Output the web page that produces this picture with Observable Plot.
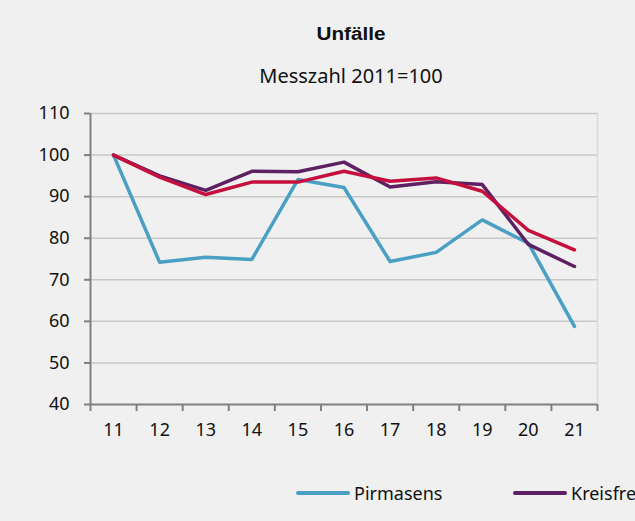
<!DOCTYPE html>
<html><head><meta charset="utf-8">
<script src="https://cdn.jsdelivr.net/npm/d3@7"></script>
<script src="https://cdn.jsdelivr.net/npm/@observablehq/plot@0.6"></script>
<style>
html,body{margin:0;padding:0;background:#eff0ef;}
#wrap{position:relative;width:635px;height:521px;overflow:hidden;background:#eff0ef;font-family:"Noto Sans",sans-serif;color:#111;}
#title{position:absolute;left:0;width:702px;top:25px;text-align:center;font-family:"Liberation Sans",Arial,sans-serif;font-weight:bold;font-size:18px;line-height:18px;}
#title span{display:inline-block;transform:scaleX(1.15);}
#subtitle{position:absolute;left:0;width:702px;top:66px;text-align:center;font-size:20px;line-height:20px;}
#chart{position:absolute;left:0;top:100px;}
#legend{position:absolute;left:296px;top:484px;display:flex;white-space:nowrap;font-size:18px;line-height:18px;}
.item{display:flex;align-items:center;width:217px;flex:none;}
.swatch{width:54px;height:4px;border-radius:2px;margin-right:4px;flex:none;}
</style></head><body>
<div id="wrap">
  <div id="title"><span>Unfälle</span></div>
  <div id="subtitle">Messzahl 2011=100</div>
  <div id="chart"></div>
  <div id="legend"></div>
</div>
<script>
const years = [11, 12, 13, 14, 15, 16, 17, 18, 19, 20, 21];
const pirmasens = [100, 74.2, 75.4, 74.9, 94.1, 92.2, 74.4, 76.6, 84.4, 78.8, 58.8];
const kreisfreie = [100, 95.0, 91.5, 96.1, 96.0, 98.3, 92.3, 93.6, 92.9, 78.5, 73.2];
const rlp = [100, 94.7, 90.5, 93.5, 93.5, 96.1, 93.7, 94.5, 91.3, 81.9, 77.2];
const seriesNames = ["Pirmasens", "Kreisfreie Städte", "Rheinland-Pfalz"];
const colors = ["#4a9fc4", "#5e1f63", "#c5103f"];
const yTicks = [40, 50, 60, 70, 80, 90, 100, 110];

const seriesValues = [pirmasens, kreisfreie, rlp];
const data = [];
seriesNames.forEach((name, i) => {
  years.forEach((yr, j) => data.push({year: yr, value: seriesValues[i][j], series: name}));
});
const xBoundaries = years.map(y => y - 0.5).concat([years[years.length - 1] + 0.5]);
const xDomain = [xBoundaries[0], xBoundaries[xBoundaries.length - 1]];

const chart = Plot.plot({
  width: 635, height: 345,
  marginTop: 13, marginBottom: 41, marginLeft: 90, marginRight: 38,
  style: {background: "transparent", fontFamily: "Noto Sans, sans-serif", fontSize: "18px", color: "#111"},
  x: {domain: xDomain},
  y: {domain: [yTicks[0], yTicks[yTicks.length - 1]]},
  color: {domain: seriesNames, range: colors},
  marks: [
    Plot.ruleY(yTicks.slice(1), {stroke: "#c8c8c8", strokeWidth: 1.5}),
    Plot.ruleX([xDomain[1]], {stroke: "#dadada", strokeWidth: 1.5}),
    Plot.axisY({ticks: yTicks, tickSize: 6, tickPadding: 15, stroke: "#808080", strokeWidth: 2, strokeOpacity: 1, label: null, fontSize: 18}),
    Plot.axisX({ticks: xBoundaries, tickSize: 7, tickFormat: () => "", stroke: "#808080", strokeWidth: 2, strokeOpacity: 1, label: null}),
    Plot.axisX({ticks: years, tickSize: 0, tickPadding: 19, label: null, fontSize: 18}),
    Plot.ruleX([xDomain[0]], {stroke: "#808080", strokeWidth: 2}),
    Plot.ruleY([yTicks[0]], {stroke: "#808080", strokeWidth: 2}),
    Plot.line(data, {x: "year", y: "value", stroke: "series", z: "series", strokeWidth: 3.5})
  ]
});
document.getElementById("chart").appendChild(chart);

const legend = document.getElementById("legend");
seriesNames.forEach((name, i) => {
  const item = document.createElement("div");
  item.className = "item";
  const sw = document.createElement("span");
  sw.className = "swatch";
  sw.style.background = colors[i];
  const t = document.createElement("span");
  t.textContent = name;
  item.appendChild(sw); item.appendChild(t);
  legend.appendChild(item);
});
</script>
</body></html>
